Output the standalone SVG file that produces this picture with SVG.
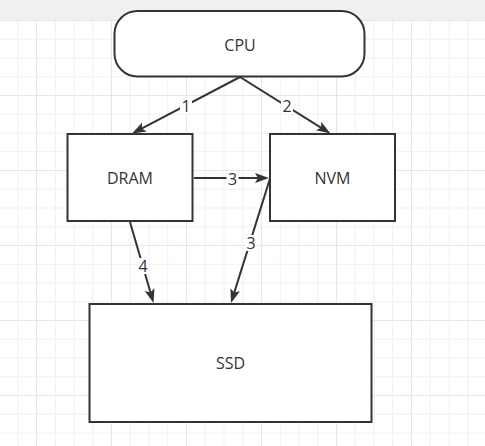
<svg xmlns="http://www.w3.org/2000/svg" width="485" height="446" viewBox="0 0 485 446">
  <defs>
    <pattern id="grid" patternUnits="userSpaceOnUse" x="36" y="20" width="75" height="75">
      <rect x="0" y="0" width="75" height="75" fill="#ffffff"/>
      <g fill="#f1f1f1">
        <rect x="18.75" y="0" width="1" height="75"/>
        <rect x="37.5" y="0" width="1" height="75"/>
        <rect x="56.25" y="0" width="1" height="75"/>
        <rect x="0" y="18.75" width="75" height="1"/>
        <rect x="0" y="37.5" width="75" height="1"/>
        <rect x="0" y="56.25" width="75" height="1"/>
      </g>
      <g fill="#e6e6e6">
        <rect x="0" y="0" width="1" height="75"/>
        <rect x="0" y="0" width="75" height="1"/>
      </g>
    </pattern>
    <marker id="arrow" markerUnits="userSpaceOnUse" viewBox="0 0 14 10" refX="6" refY="5" markerWidth="14" markerHeight="10" orient="auto">
      <path d="M0,0 L14,5 L0,10 L3,5 z" fill="#333333"/>
    </marker>
  </defs>
  <style>
    .node { fill: #ffffff; stroke: #333333; stroke-width: 2; }
    .label { font-family: "Open Sans", "Noto Sans", "Liberation Sans", sans-serif; font-size: 16px; fill: #333333; text-anchor: middle; }
    .edge { fill: none; stroke: #333333; stroke-width: 2; marker-end: url(#arrow); }
    .lbg { fill: #ffffff; }
  </style>

  <rect x="0" y="0" width="485" height="446" fill="#ffffff"/>
  <rect x="0" y="20" width="485" height="426" fill="url(#grid)"/>
  <rect x="0" y="0" width="485" height="20" fill="#f0f0f0"/>

  <g id="connectors">
    <path class="edge" d="M240,77 L139.1,129.8"/>
    <path class="edge" d="M240,77 L323.7,129.3"/>
    <path class="edge" d="M194,178 L261,178"/>
    <path class="edge" d="M270,178.5 L233.4,295.4"/>
    <path class="edge" d="M130,222 L151.3,295.3"/>
    <g id="edge-labels">
      <rect class="lbg" x="180" y="98" width="12" height="16"/>
      <text class="label" x="186" y="111.5">1</text>
      <rect class="lbg" x="281" y="98" width="12" height="16"/>
      <text class="label" x="287" y="111.5">2</text>
      <rect class="lbg" x="226.5" y="171" width="12" height="16"/>
      <text class="label" x="232.5" y="184.5">3</text>
      <rect class="lbg" x="245" y="235" width="12" height="16"/>
      <text class="label" x="251" y="248.5">3</text>
      <rect class="lbg" x="137" y="258" width="12" height="16"/>
      <text class="label" x="143" y="271.5">4</text>
    </g>
  </g>

  <g id="cpu">
    <rect class="node" x="114.5" y="11" width="250" height="65.5" rx="23" ry="23"/>
    <text class="label" x="240" y="50.5">CPU</text>
  </g>
  <g id="dram">
    <rect class="node" x="67.5" y="134" width="125" height="87"/>
    <text class="label" x="130" y="184">DRAM</text>
  </g>
  <g id="nvm">
    <rect class="node" x="270" y="134" width="125" height="87"/>
    <text class="label" x="332.5" y="184">NVM</text>
  </g>
  <g id="ssd">
    <rect class="node" x="89.5" y="304" width="282" height="118"/>
    <text class="label" x="230.5" y="369">SSD</text>
  </g>
</svg>
